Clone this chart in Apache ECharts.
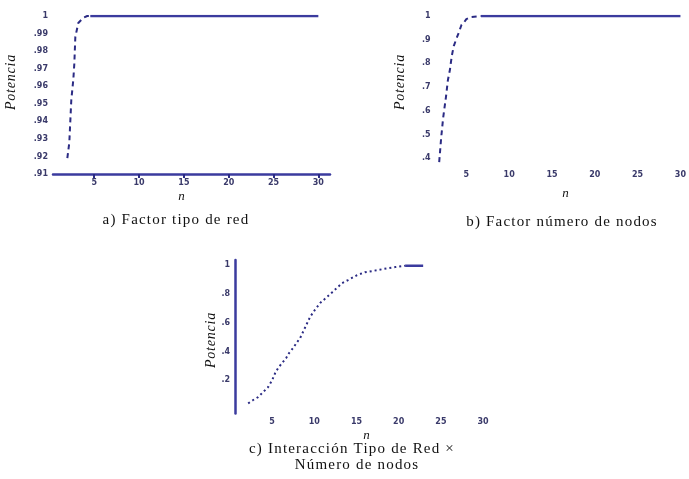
<!DOCTYPE html>
<html>
<head>
<meta charset="utf-8">
<script src="https://cdn.jsdelivr.net/npm/echarts@6/dist/echarts.min.js"></script>
<style>
html,body{margin:0;padding:0;background:#fff;}
#chart{width:689px;height:479px;}
</style>
</head>
<body>
<div id="chart"></div>
<script>
// ---- data ----
const xTicks = [5, 10, 15, 20, 25, 30];
const yTicksA = [0.91, 0.92, 0.93, 0.94, 0.95, 0.96, 0.97, 0.98, 0.99, 1.0];
const yTicksB = [0.4, 0.5, 0.6, 0.7, 0.8, 0.9, 1.0];
const yTicksC = [0.2, 0.4, 0.6, 0.8, 1.0];

// a) Factor tipo de red
const nCurveA = [2.0, 2.22, 2.33, 2.44, 2.67, 2.78, 2.89, 3.22, 3.78, 4.22, 4.56];
const pCurveA = [0.919, 0.928, 0.940, 0.952, 0.964, 0.973, 0.988, 0.996, 0.999, 1.0, 1.0];
const nFlatA = [4.56, 30];
const pFlatA = [1.0, 1.0];

// b) Factor número de nodos
const nCurveB = [1.83, 2.06, 2.29, 2.62, 2.85, 3.08, 3.30, 3.53, 3.87, 4.10, 4.43, 4.77, 5.0, 5.57, 6.7];
const pCurveB = [0.383, 0.485, 0.569, 0.658, 0.730, 0.772, 0.831, 0.873, 0.907, 0.928, 0.962, 0.975, 0.987, 0.996, 1.0];
const nFlatB = [6.7, 30];
const pFlatB = [1.0, 1.0];

// c) Interacción Tipo de Red × Número de nodos
const nCurveC = [2.16, 2.75, 3.34, 3.93, 4.53, 5.0, 5.36, 5.71, 6.18, 6.66, 7.01, 7.49, 7.96, 8.32, 9.5, 10.09, 10.69, 11.5, 12.1, 13.3, 14.0, 15.07, 16.0, 16.85, 18.15, 19.6, 20.76];
const pCurveC = [0.04, 0.063, 0.083, 0.118, 0.153, 0.20, 0.25, 0.285, 0.32, 0.354, 0.389, 0.424, 0.465, 0.493, 0.64, 0.69, 0.736, 0.778, 0.81, 0.875, 0.896, 0.93, 0.95, 0.958, 0.972, 0.986, 0.995];
const nFlatC = [20.76, 22.9];
const pFlatC = [0.995, 0.995];

// ---- letter spacing for serif texts ----
(function(){
  const proto = CanvasRenderingContext2D.prototype;
  const orig = proto.fillText;
  proto.fillText = function(t, x, y, m){
    const f = this.font || '';
    if ('letterSpacing' in this) {
      let ls = '0px';
      if (f.indexOf('Liberation Serif') >= 0) ls = f.indexOf('italic') >= 0 ? '0.8px' : '1.2px';
      this.letterSpacing = ls;
    }
    return m === undefined ? orig.call(this, t, x, y) : orig.call(this, t, x, y, m);
  };
})();

const LINE = '#3b3b9e';
const DOT = '#2b2b84';
const LBL = '#3a3a6a';

function zip(a, b){ return a.map((v, i) => [v, b[i]]); }
function fmt(d){ return v => (Math.abs(v - 1) < 1e-9 ? '1' : v.toFixed(d).replace(/^0/, '')); }

function xAxis(grid, min, max, showLine, margin){
  return {
    type: 'value', gridIndex: grid, min: min, max: max,
    axisLine: {show: showLine, onZero: false, lineStyle: {color: LINE, width: 2.5}},
    axisTick: {show: showLine, customValues: xTicks, length: 4, lineStyle: {color: DOT, width: 2}},
    axisLabel: {customValues: xTicks, margin: margin, fontSize: 8, fontWeight: 'bold', color: LBL, fontFamily: 'DejaVu Sans'},
    splitLine: {show: false}
  };
}
function yAxis(grid, min, max, ticks, d, showLine){
  return {
    type: 'value', gridIndex: grid, min: min, max: max,
    axisLine: {show: showLine, onZero: false, lineStyle: {color: LINE, width: 2.5}},
    axisTick: {show: false},
    axisLabel: {customValues: ticks, formatter: fmt(d), margin: 5, fontSize: 8, fontWeight: 'bold', color: LBL, fontFamily: 'DejaVu Sans'},
    splitLine: {show: false}
  };
}
function dotted(xi, yi, data, dash){
  return {type: 'line', xAxisIndex: xi, yAxisIndex: yi, data: data, showSymbol: false, silent: true,
    lineStyle: {color: DOT, width: 2, type: dash}, animation: false};
}
function solid(xi, yi, data){
  return {type: 'line', xAxisIndex: xi, yAxisIndex: yi, data: data, showSymbol: false, silent: true,
    lineStyle: {color: LINE, width: 2.5}, animation: false};
}
function txt(x, y, s, size, italic, rot){
  return {type: 'text', x: x, y: y, rotation: rot || 0, silent: true,
    style: {text: s, x: 0, y: 0, fontSize: size, fontFamily: 'Liberation Serif', fontStyle: italic ? 'italic' : 'normal',
      fill: '#111', textAlign: 'center', textVerticalAlign: 'middle'}};
}

const chart = echarts.init(document.getElementById('chart'), null, {renderer: 'canvas'});
chart.setOption({
  backgroundColor: '#ffffff',
  animation: false,
  grid: [
    {left: 53, top: 16, width: 277, height: 158},
    {left: 435.5, top: 16, width: 253.5, height: 154},
    {left: 235, top: 260, width: 256.5, height: 153.4}
  ],
  xAxis: [
    xAxis(0, 0.4, 31.3, true, 5),
    xAxis(1, 1.4, 30.1, false, 1),
    xAxis(2, 0.6, 31, false, 5)
  ],
  yAxis: [
    yAxis(0, 0.91, 1.0, yTicksA, 2, false),
    yAxis(1, 0.35, 1.0, yTicksB, 1, false),
    yAxis(2, -0.03, 1.035, yTicksC, 1, true)
  ],
  series: [
    dotted(0, 0, zip(nCurveA, pCurveA), [5, 4]),
    solid(0, 0, zip(nFlatA, pFlatA)),
    dotted(1, 1, zip(nCurveB, pCurveB), [5, 4]),
    solid(1, 1, zip(nFlatB, pFlatB)),
    dotted(2, 2, zip(nCurveC, pCurveC), [2, 3]),
    solid(2, 2, zip(nFlatC, pFlatC))
  ],
  graphic: [
    txt(11, 82, 'Potencia', 14, true, Math.PI / 2),
    txt(400, 82, 'Potencia', 14, true, Math.PI / 2),
    txt(211, 340, 'Potencia', 14, true, Math.PI / 2),
    txt(182, 197, 'n', 13, true),
    txt(566, 194, 'n', 13, true),
    txt(367, 436, 'n', 13, true),
    txt(176, 220, 'a) Factor tipo de red', 15, false),
    txt(562, 222, 'b) Factor número de nodos', 15, false),
    txt(352, 449, 'c) Interacción Tipo de Red ×', 15, false),
    txt(357, 465, 'Número de nodos', 15, false)
  ]
});
</script>
</body>
</html>
